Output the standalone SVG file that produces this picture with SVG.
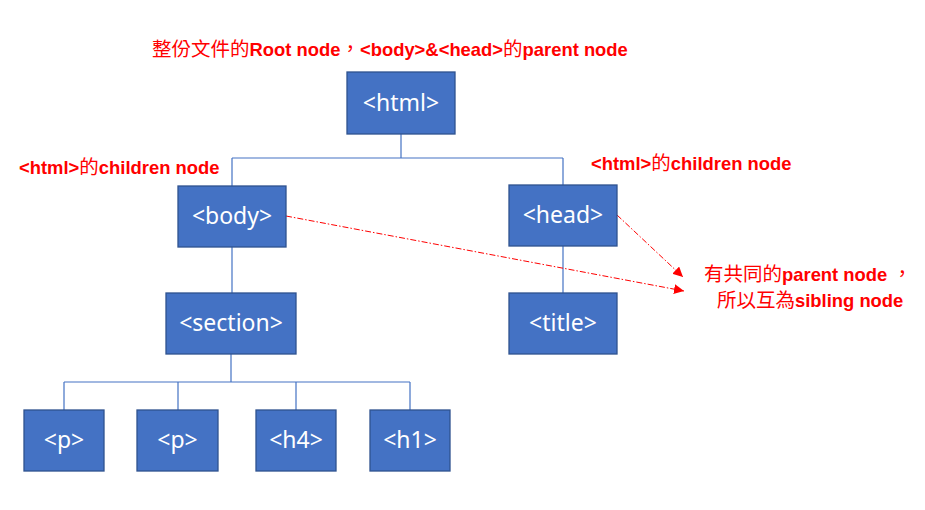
<svg xmlns="http://www.w3.org/2000/svg" width="925" height="510" viewBox="0 0 925 510">
<defs>
<style>
.node rect{fill:#4472C4;stroke:#2F528F;stroke-width:1.3}
.node text{fill:#FFFFFF;font-family:"Noto Sans","Open Sans","DejaVu Sans",sans-serif;font-size:23px;text-anchor:middle}
.conn{fill:none;stroke:#4472C4;stroke-width:1.2}
.arrow{fill:none;stroke:#FF0000;stroke-width:1;stroke-dasharray:6 2 1.5 2}
.lbl{fill:#FF0000;font-family:"Liberation Sans","Noto Sans CJK TC",sans-serif;font-size:18.4px;font-weight:bold}
.cjk{font-family:"Noto Sans CJK TC","Noto Sans CJK SC",sans-serif;font-weight:normal;font-size:19.5px}
</style>
<marker id="ah" viewBox="0 0 10 10" refX="10" refY="5" markerWidth="10" markerHeight="10" markerUnits="userSpaceOnUse" orient="auto">
<path d="M0,0 L10,5 L0,10 z" fill="#FF0000"/>
</marker>
</defs>
<rect width="925" height="510" fill="#FFFFFF"/>
<g id="connectors">
<path class="conn" d="M401,134 V158 M232,158 H563 M232,158 V186 M563,158 V185"/>
<path class="conn" d="M232,247 V293"/>
<path class="conn" d="M563,246 V293"/>
<path class="conn" d="M231,354 V382 M64,382 H410 M64,382 V410 M178,382 V410 M296,382 V410 M410,382 V410"/>
<path class="arrow" d="M286,216 L684,291" marker-end="url(#ah)"/>
<path class="arrow" d="M617,215 L683,277" marker-end="url(#ah)"/>
</g>
<g id="html" class="node"><rect x="347" y="72" width="108" height="62"/><text x="401" y="111">&lt;html&gt;</text></g>
<g id="body" class="node"><rect x="178" y="186" width="108" height="61"/><text x="232" y="224">&lt;body&gt;</text></g>
<g id="head" class="node"><rect x="509" y="185" width="108" height="61"/><text x="563" y="223">&lt;head&gt;</text></g>
<g id="section" class="node"><rect x="166" y="293" width="130" height="61"/><text x="231" y="331">&lt;section&gt;</text></g>
<g id="title" class="node"><rect x="509" y="293" width="108" height="61"/><text x="563" y="331">&lt;title&gt;</text></g>
<g id="p1" class="node"><rect x="24" y="410" width="80" height="61"/><text x="64" y="448">&lt;p&gt;</text></g>
<g id="p2" class="node"><rect x="137" y="410" width="81" height="61"/><text x="177.5" y="448">&lt;p&gt;</text></g>
<g id="h4" class="node"><rect x="256" y="410" width="80" height="61"/><text x="296" y="448">&lt;h4&gt;</text></g>
<g id="h1" class="node"><rect x="370" y="410" width="80" height="61"/><text x="410" y="448">&lt;h1&gt;</text></g>
<g id="labels">
<text class="lbl" x="152" y="56"><tspan class="cjk">整份文件的</tspan>Root node<tspan class="cjk">，</tspan>&lt;body&gt;&amp;&lt;head&gt;<tspan class="cjk">的</tspan>parent node</text>
<text class="lbl" x="19" y="174">&lt;html&gt;<tspan class="cjk">的</tspan>children node</text>
<text class="lbl" x="591" y="170">&lt;html&gt;<tspan class="cjk">的</tspan>children node</text>
<text class="lbl" x="704" y="281"><tspan class="cjk">有共同的</tspan>parent node <tspan class="cjk">，</tspan></text>
<text class="lbl" x="717" y="307"><tspan class="cjk">所以互為</tspan>sibling node</text>
</g>
</svg>
